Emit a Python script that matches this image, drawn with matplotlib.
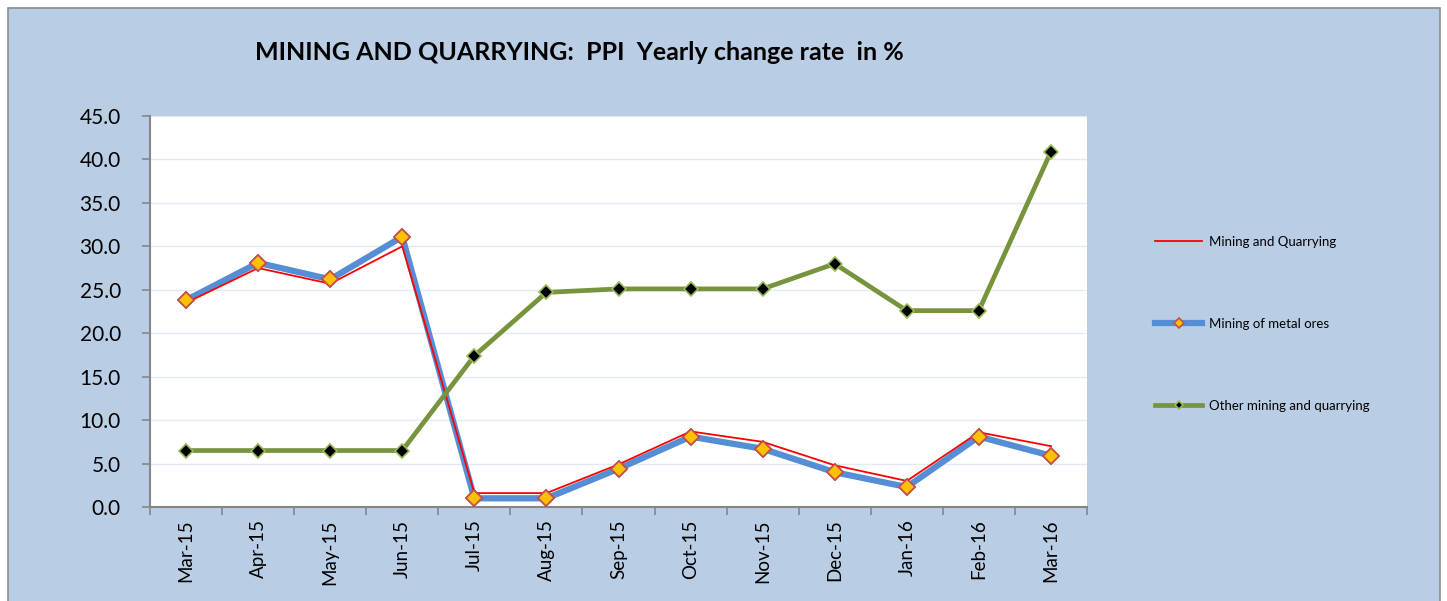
import matplotlib.pyplot as plt
from matplotlib.patches import Rectangle
import numpy as np

months = ["Mar-15", "Apr-15", "May-15", "Jun-15", "Jul-15", "Aug-15", "Sep-15",
          "Oct-15", "Nov-15", "Dec-15", "Jan-16", "Feb-16", "Mar-16"]
mining_quarrying = [23.5, 27.5, 25.7, 30.0, 1.6, 1.6, 4.9, 8.7, 7.5, 4.8, 3.0, 8.6, 7.0]
metal_ores = [23.8, 28.1, 26.2, 31.1, 1.0, 1.0, 4.4, 8.1, 6.7, 4.0, 2.3, 8.1, 5.9]
other_mining = [6.5, 6.5, 6.5, 6.5, 17.4, 24.7, 25.1, 25.1, 25.1, 28.0, 22.6, 22.6, 40.9]

plt.rcParams['font.family'] = ['Lato', 'DejaVu Sans']

fig = plt.figure(figsize=(14.47, 6.01), dpi=100)
fig.patch.set_facecolor('white')
# chart panel
fig.patches.append(Rectangle((8 / 1447, -0.01), 1432 / 1447, (601 - 8) / 601 + 0.01,
                             transform=fig.transFigure, facecolor='#B9CDE5',
                             edgecolor='#8C8C8C', linewidth=1.2, zorder=-10))

ax = fig.add_axes([150 / 1447, 1 - 507 / 601, (1087 - 150) / 1447, (507 - 116) / 601])
ax.set_facecolor('white')

x = np.arange(len(months))

ax.plot(x, metal_ores, color='#558ED5', lw=4.5, marker='D', ms=8,
        mfc='#FFC000', mec='#C0504D', mew=1.2, label='Mining of metal ores', zorder=2)
ax.plot(x, mining_quarrying, color='#FF0000', lw=1.3, label='Mining and Quarrying', zorder=3)
ax.plot(x, metal_ores, ls='none', marker='D', ms=8,
        mfc='#FFC000', mec='#C0504D', mew=1.2, zorder=4)
ax.plot(x, other_mining, color='#77933C', lw=3.4, marker='D', ms=7,
        mfc='black', mec='#9BBB59', mew=1.2, label='Other mining and quarrying', zorder=5)

ax.set_xlim(-0.5, len(months) - 0.5)
ax.set_ylim(0, 45)
ax.set_yticks(np.arange(0, 46, 5))
ax.set_yticklabels([f"{v:.1f}" for v in np.arange(0, 46, 5)], fontsize=15)
ax.set_xticks(x)
ax.set_xticklabels(months, rotation=90, fontsize=13.5)
ax.set_xticks(np.arange(-0.5, len(months), 1), minor=True)
ax.tick_params(axis='x', which='major', length=0, pad=9)
ax.tick_params(axis='x', which='minor', length=6, color='#868686', width=1.2)
ax.tick_params(axis='y', length=6, color='#868686', width=1.2, pad=15)
ax.grid(axis='y', color='#E4EAF4', lw=1)
ax.set_axisbelow(True)
for s in ['top', 'right']:
    ax.spines[s].set_visible(False)
for s in ['left', 'bottom']:
    ax.spines[s].set_color('#868686')
    ax.spines[s].set_linewidth(1.5)

handles, labels = ax.get_legend_handles_labels()
order = [1, 0, 2]
fig.legend([handles[i] for i in order], [labels[i] for i in order],
           loc='upper left', bbox_to_anchor=(1143 / 1447, 1 - 224 / 601),
           frameon=False, fontsize=9.5, labelspacing=5.3, handlelength=3.6,
           handletextpad=0.5, markerscale=0.6)

fig.text(579 / 1447, 1 - 53 / 601, "MINING AND QUARRYING:  PPI  Yearly change rate  in %",
         ha='center', va='center', fontsize=18, fontweight='bold')

fig.savefig('out.png', dpi=100)
